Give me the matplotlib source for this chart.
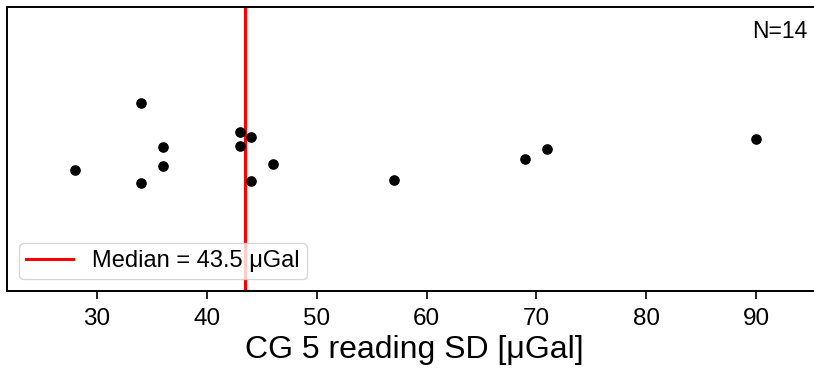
import numpy as np
import matplotlib
matplotlib.use('Agg')
import matplotlib.pyplot as plt

plt.rcParams['font.family'] = ['Liberation Sans', 'DejaVu Sans']

# CG 5 reading SD per survey [uGal], with strip jitter
sd = [28, 34, 34, 36, 36, 43, 43, 44, 44, 46, 57, 69, 71, 90]
jitter = [-0.075, 0.161, -0.120, 0.007, -0.059, 0.059, 0.012,
          0.043, -0.113, -0.054, -0.108, -0.034, -0.001, 0.035]

med = np.median(sd)

fig = plt.figure(figsize=(8.14, 3.81), dpi=100)
# right edge of axes runs a bit past the figure (cropped like the original)
ax = fig.add_axes([0.0086, 0.236, 1.0012, 0.7456])

ax.scatter(sd, jitter, s=44, color='black', zorder=3)
ax.axvline(med, color='red', lw=2.2, label='Median = %.1f \u03bcGal' % med, zorder=2)

ax.set_xlim(21.8, 96.0)
ax.set_ylim(-0.5, 0.5)
ax.set_yticks([])
ax.set_xticks([30, 40, 50, 60, 70, 80, 90])
ax.tick_params(axis='x', labelsize=17.5, length=6, width=1.2, pad=6)
for sp in ax.spines.values():
    sp.set_linewidth(1.4)

ax.set_xlabel('CG 5 reading SD [\u03bcGal]', fontsize=23, labelpad=4)
ax.text(0.982, 0.955, 'N=%d' % len(sd), transform=ax.transAxes,
        ha='right', va='top', fontsize=16.5)
ax.legend(loc='lower left', fontsize=17, borderaxespad=0.5, borderpad=0.3)

fig.savefig('out.png', dpi=100)
